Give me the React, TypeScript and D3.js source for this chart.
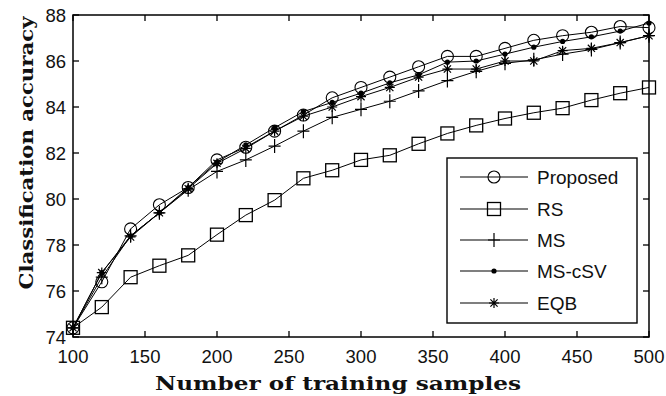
import * as d3 from "d3";

const samples = [100, 120, 140, 160, 180, 200, 220, 240, 260, 280, 300, 320, 340, 360, 380, 400, 420, 440, 460, 480, 500];
const proposed = [74.4, 76.4, 78.7, 79.75, 80.5, 81.7, 82.25, 82.95, 83.65, 84.4, 84.85, 85.3, 85.75, 86.2, 86.2, 86.55, 86.9, 87.1, 87.25, 87.5, 87.45];
const rs = [74.4, 75.3, 76.6, 77.1, 77.55, 78.45, 79.3, 79.95, 80.9, 81.25, 81.7, 81.9, 82.4, 82.85, 83.2, 83.5, 83.75, 83.95, 84.3, 84.6, 84.85];
const ms = [74.4, 76.6, 78.4, 79.4, 80.4, 81.2, 81.7, 82.3, 82.95, 83.55, 83.9, 84.25, 84.7, 85.15, 85.55, 85.9, 86.05, 86.3, 86.5, 86.8, 87.1];
const mscsv = [74.4, 76.8, 78.4, 79.4, 80.5, 81.6, 82.35, 83.1, 83.8, 84.2, 84.6, 85.05, 85.4, 85.95, 86.0, 86.3, 86.6, 86.85, 87.05, 87.3, 87.65];
const eqb = [74.4, 76.8, 78.35, 79.4, 80.45, 81.55, 82.2, 82.95, 83.6, 84.0, 84.45, 84.85, 85.3, 85.65, 85.65, 86.0, 86.0, 86.45, 86.55, 86.8, 87.1];

const xTicks = [100, 150, 200, 250, 300, 350, 400, 450, 500];
const yTicks = [74, 76, 78, 80, 82, 84, 86, 88];

const series = [
  {name: "Proposed", values: proposed, marker: "circle"},
  {name: "RS", values: rs, marker: "square"},
  {name: "MS", values: ms, marker: "plus"},
  {name: "MS-cSV", values: mscsv, marker: "dot"},
  {name: "EQB", values: eqb, marker: "star"},
];

const W = 666, H = 396;
const plot = {left: 73, right: 649, top: 15, bottom: 337};

const x = d3.scaleLinear().domain([100, 500]).range([plot.left, plot.right]);
const y = d3.scaleLinear().domain([74, 88]).range([plot.bottom, plot.top]);

const Marker = ({type, cx, cy}: {type: string; cx: number; cy: number}) => {
  if (type === "circle") return <circle cx={cx} cy={cy} r={6} fill="none" stroke="#000" strokeWidth={1.1}/>;
  if (type === "square") return <rect x={cx - 6.5} y={cy - 6.5} width={13} height={13} fill="none" stroke="#000" strokeWidth={1.3}/>;
  if (type === "plus") return <path d={`M${cx - 6},${cy}H${cx + 6}M${cx},${cy - 7}V${cy + 7}`} stroke="#000" strokeWidth={1.2}/>;
  if (type === "dot") return <circle cx={cx} cy={cy} r={2.6} fill="#000"/>;
  const s = 5, d = 3.6;
  return <path d={`M${cx - s},${cy}H${cx + s}M${cx},${cy - s}V${cy + s}M${cx - d},${cy - d}L${cx + d},${cy + d}M${cx - d},${cy + d}L${cx + d},${cy - d}`} stroke="#000" strokeWidth={1.2}/>;
};

const App = () => {
  const line = d3.line<number>().x((_, i) => x(samples[i])).y(v => y(v));
  const tickFont = "'Liberation Sans', Arial, sans-serif";
  const titleFont = "'DejaVu Serif', 'Liberation Serif', serif";
  const legend = {left: 447, right: 637, top: 158, bottom: 323};
  const legendY = [177, 209, 240, 271, 303];

  return (
    <svg width={W} height={H} style={{position: "absolute", left: 0, top: 0, background: "#fff"}}>
      <rect width={W} height={H} fill="#fff"/>
      {/* data lines */}
      {series.map(s => (
        <path key={s.name} d={line(s.values) || ""} fill="none" stroke="#000" strokeWidth={1}/>
      ))}
      {series.map(s => s.values.map((v, i) => (
        <Marker key={s.name + i} type={s.marker} cx={x(samples[i])} cy={y(v)}/>
      )))}

      {/* frame + inward ticks */}
      <rect x={plot.left} y={plot.top} width={plot.right - plot.left} height={plot.bottom - plot.top}
            fill="none" stroke="#000" strokeWidth={1.5}/>
      {xTicks.map(t => (
        <g key={"x" + t}>
          <line x1={x(t)} x2={x(t)} y1={plot.bottom} y2={plot.bottom - 6} stroke="#000" strokeWidth={1.3}/>
          <line x1={x(t)} x2={x(t)} y1={plot.top} y2={plot.top + 6} stroke="#000" strokeWidth={1.3}/>
          <text x={x(t)} y={356} textAnchor="middle" dominantBaseline="central"
                fontFamily={tickFont} fontSize={18.5} fill="#111">{t}</text>
        </g>
      ))}
      {yTicks.map(t => (
        <g key={"y" + t}>
          <line x1={plot.left} x2={plot.left + 6} y1={y(t)} y2={y(t)} stroke="#000" strokeWidth={1.3}/>
          <line x1={plot.right} x2={plot.right - 6} y1={y(t)} y2={y(t)} stroke="#000" strokeWidth={1.3}/>
          <text x={66} y={y(t)} textAnchor="end" dominantBaseline="central"
                fontFamily={tickFont} fontSize={18.5} fill="#111">{t}</text>
        </g>
      ))}

      {/* axis titles */}
      <text x={338} y={390} textAnchor="middle" fontFamily={titleFont} fontWeight="bold"
            fontSize={19} textLength={366} lengthAdjust="spacingAndGlyphs" fill="#111">Number of training samples</text>
      <text transform={`translate(33,153) rotate(-90)`} textAnchor="middle" fontFamily={titleFont}
            fontWeight="bold" fontSize={19} textLength={273} lengthAdjust="spacingAndGlyphs" fill="#111">Classification accuracy</text>

      {/* legend */}
      <rect x={legend.left} y={legend.top} width={legend.right - legend.left} height={legend.bottom - legend.top}
            fill="#fff" stroke="#000" strokeWidth={1.4}/>
      {series.map((s, i) => (
        <g key={"lg" + s.name}>
          <line x1={460} x2={528} y1={legendY[i]} y2={legendY[i]} stroke="#000" strokeWidth={1.1}/>
          <Marker type={s.marker} cx={494} cy={legendY[i]}/>
          <text x={537} y={legendY[i]} dominantBaseline="central" fontFamily={tickFont} fontSize={19} fill="#111">{s.name}</text>
        </g>
      ))}
    </svg>
  );
};

export default App;
